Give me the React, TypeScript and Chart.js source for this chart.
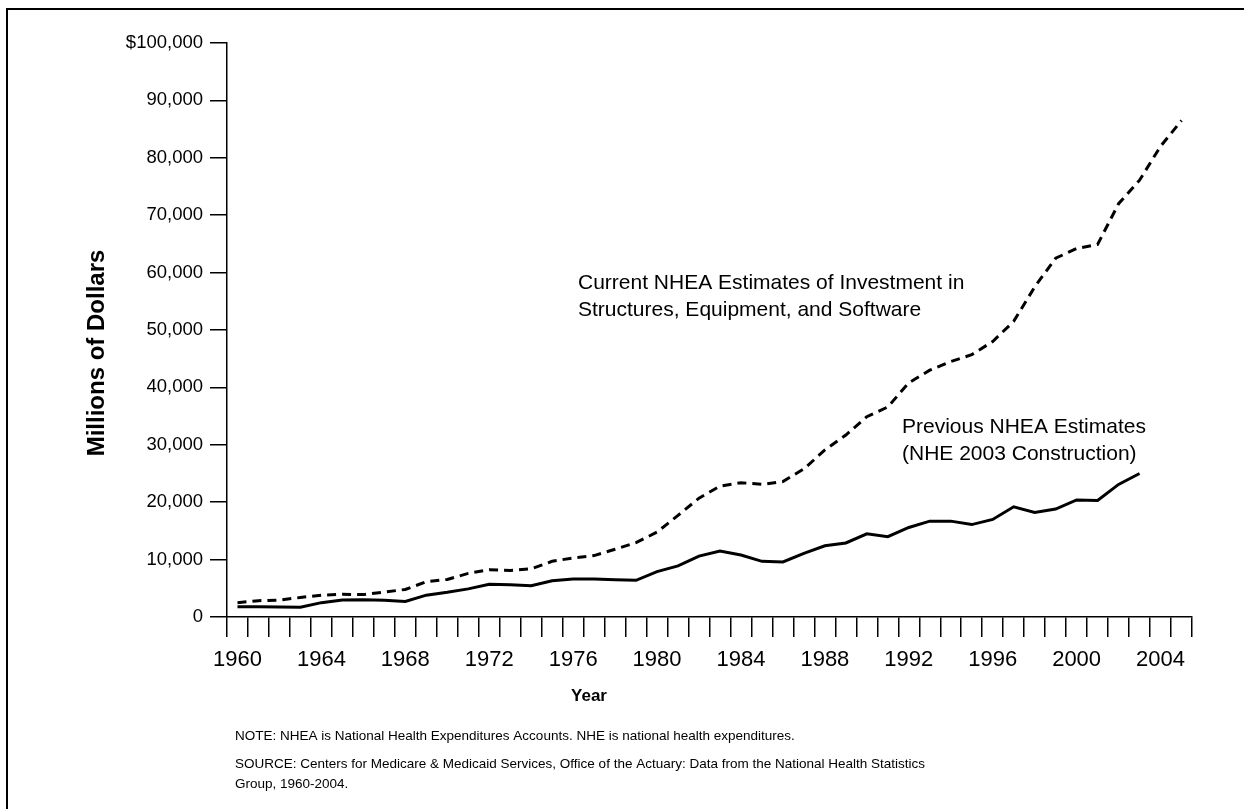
import React, { useEffect, useRef } from 'react';
import { Chart, registerables } from 'chart.js';

Chart.register(...registerables);

const FONT = '"Liberation Sans", Arial, Helvetica, sans-serif';

const years = [
  '1960', '1961', '1962', '1963', '1964', '1965', '1966', '1967', '1968', '1969',
  '1970', '1971', '1972', '1973', '1974', '1975', '1976', '1977', '1978', '1979',
  '1980', '1981', '1982', '1983', '1984', '1985', '1986', '1987', '1988', '1989',
  '1990', '1991', '1992', '1993', '1994', '1995', '1996', '1997', '1998', '1999',
  '2000', '2001', '2002', '2003', '2004', '2005',
];

const labeledYears = ['1960', '1964', '1968', '1972', '1976', '1980', '1984', '1988', '1992', '1996', '2000', '2004'];

// Current NHEA Estimates of Investment in Structures, Equipment, and Software (millions $)
const currentEstimates = [
  2500, 2850, 2950, 3400, 3800, 3950, 3900, 4350, 4800, 6150,
  6550, 7600, 8250, 8100, 8400, 9700, 10300, 10700, 11800, 12950,
  14800, 17700, 20700, 22800, 23400, 23100, 23600, 25800, 29100, 31700,
  34900, 36600, 40800, 43000, 44500, 45700, 48000, 51500, 57500, 62500,
  64200, 64900, 72000, 76100, 82000, 86500,
];

// Previous NHEA Estimates (NHE 2003 Construction), millions $
const previousEstimates = [
  1800, 1780, 1750, 1690, 2500, 2950, 3000, 2900, 2700, 3800,
  4300, 4900, 5700, 5600, 5450, 6300, 6600, 6600, 6500, 6400,
  7900, 8900, 10600, 11500, 10800, 9700, 9600, 11100, 12400, 12900,
  14500, 14000, 15600, 16700, 16700, 16100, 17000, 19200, 18200, 18800,
  20400, 20300, 23100, 25000, null, null,
];

const yTickValues = [0, 10000, 20000, 30000, 40000, 50000, 60000, 70000, 80000, 90000, 100000];
const yTickLabels = ['0', '10,000', '20,000', '30,000', '40,000', '50,000', '60,000', '70,000', '80,000', '90,000', '$100,000'];

const yAxisTitle = 'Millions of Dollars';
const xAxisTitle = 'Year';
const currentLabel = ['Current NHEA Estimates of Investment in', 'Structures, Equipment, and Software'];
const previousLabel = ['Previous NHEA Estimates', '(NHE 2003 Construction)'];
const noteLines = [
  'NOTE: NHEA is National Health Expenditures Accounts. NHE is national health expenditures.',
  'SOURCE: Centers for Medicare & Medicaid Services, Office of the Actuary: Data from the National Health Statistics',
  'Group, 1960-2004.',
];

const textPlugin = {
  id: 'textPlugin',
  afterDraw(chart: any) {
    const ctx = chart.ctx as CanvasRenderingContext2D;
    ctx.save();
    ctx.fillStyle = '#000';
    // frame
    ctx.fillRect(6, 8, 1244 - 6, 2);
    ctx.fillRect(6, 8, 2, 809 - 8);

    ctx.textBaseline = 'alphabetic';
    ctx.textAlign = 'left';
    ctx.font = `21px ${FONT}`;
    ctx.fillText(currentLabel[0], 578, 289);
    ctx.fillText(currentLabel[1], 578, 316);
    ctx.fillText(previousLabel[0], 902, 433);
    ctx.fillText(previousLabel[1], 902, 460);

    ctx.font = `13.5px ${FONT}`;
    ctx.fillText(noteLines[0], 235, 740);
    ctx.fillText(noteLines[1], 235, 768);
    ctx.fillText(noteLines[2], 235, 788);

    // axis titles
    ctx.font = `bold 17px ${FONT}`;
    ctx.textAlign = 'center';
    ctx.textBaseline = 'middle';
    ctx.fillText(xAxisTitle, 589, 696);

    ctx.font = `bold 24px ${FONT}`;
    ctx.translate(97, 353);
    ctx.rotate(-Math.PI / 2);
    ctx.fillText(yAxisTitle, 0, 0);
    ctx.restore();
  },
};

export default function App() {
  const ref = useRef<HTMLCanvasElement | null>(null);

  useEffect(() => {
    if (!ref.current) return;
    const chart = new Chart(ref.current, {
      type: 'line',
      data: {
        labels: years,
        datasets: [
          {
            label: currentLabel.join(' '),
            data: currentEstimates,
            borderColor: '#000',
            borderWidth: 3,
            borderDash: [9, 6],
            pointRadius: 0,
            tension: 0,
            fill: false,
          },
          {
            label: previousLabel.join(' '),
            data: previousEstimates,
            borderColor: '#000',
            borderWidth: 3,
            pointRadius: 0,
            tension: 0,
            fill: false,
            spanGaps: false,
          },
        ],
      },
      options: {
        responsive: false,
        animation: false,
        devicePixelRatio: 1,
        layout: { padding: { left: 0, top: 43, right: 52, bottom: 0 } },
        plugins: {
          legend: { display: false },
          tooltip: { enabled: false },
          title: { display: false },
        },
        scales: {
          x: {
            type: 'category',
            offset: true,
            afterFit: (scale: any) => {
              scale.height = 192;
            },
            grid: {
              display: true,
              drawOnChartArea: false,
              drawTicks: true,
              tickLength: 20,
              offset: true,
              color: '#000',
              lineWidth: 1.5,
            },
            border: { display: true, color: '#000', width: 1.5 },
            ticks: {
              autoSkip: false,
              maxRotation: 0,
              minRotation: 0,
              color: '#000',
              padding: 10,
              font: { size: 22, family: FONT },
              callback: (_v: any, i: number) => (labeledYears.includes(years[i]) ? years[i] : ''),
            },
          },
          y: {
            min: 0,
            max: 100000,
            afterFit: (scale: any) => {
              scale.width = 227;
            },
            afterBuildTicks: (scale: any) => {
              scale.ticks = yTickValues.map((v) => ({ value: v }));
            },
            grid: {
              display: true,
              drawOnChartArea: false,
              drawTicks: true,
              tickLength: 17,
              color: '#000',
              lineWidth: 1.5,
            },
            border: { display: true, color: '#000', width: 1.5 },
            ticks: {
              color: '#000',
              padding: 7,
              font: { size: 18.5, family: FONT },
              callback: (v: any) => {
                const idx = yTickValues.indexOf(Number(v));
                return idx >= 0 ? yTickLabels[idx] : '';
              },
            },
          },
        },
      },
      plugins: [textPlugin],
    });
    return () => chart.destroy();
  }, []);

  return (
    <div style={{ position: 'absolute', left: 0, top: 0, width: 1244, height: 809, background: '#fff' }}>
      <canvas ref={ref} width={1244} height={809} style={{ display: 'block', width: 1244, height: 809 }} />
    </div>
  );
}
